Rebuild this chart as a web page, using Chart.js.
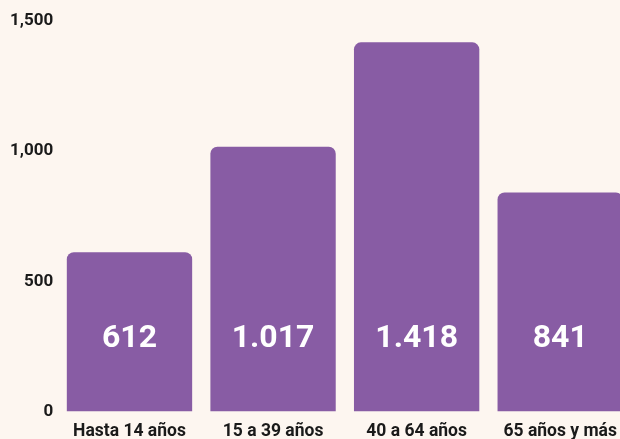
<!DOCTYPE html>
<html>
<head>
<meta charset="utf-8">
<script src="https://cdn.jsdelivr.net/npm/chart.js@4"></script>
<style>
  html, body { margin: 0; padding: 0; background: #fdf6f0; overflow: hidden; }
  #wrap { width: 632px; height: 439px; position: relative; }
</style>
</head>
<body>
<div id="wrap"><canvas id="c" width="632" height="439"></canvas></div>
<script>
const categories = ['Hasta 14 años', '15 a 39 años', '40 a 64 años', '65 años y más'];
const values = [612, 1017, 1418, 841];
const yTickValues = [0, 500, 1000, 1500];
const yTickLabels = ['0', '500', '1,000', '1,500'];

function fmtEs(v) { return String(v).replace(/\B(?=(\d{3})+(?!\d))/g, '.'); }

const valueLabelPlugin = {
  id: 'valueLabels',
  afterDatasetsDraw(chart) {
    const ctx = chart.ctx;
    const meta = chart.getDatasetMeta(0);
    const area = chart.chartArea;
    ctx.save();
    ctx.fillStyle = '#ffffff';
    ctx.font = 'bold 32px Roboto';
    ctx.textAlign = 'center';
    ctx.textBaseline = 'middle';
    meta.data.forEach((bar, i) => {
      ctx.fillText(fmtEs(values[i]), bar.x, area.bottom - 73);
    });
    ctx.restore();
  }
};

new Chart(document.getElementById('c'), {
  type: 'bar',
  data: {
    labels: categories,
    datasets: [{
      data: values,
      backgroundColor: '#885ca4',
      borderRadius: { topLeft: 7, topRight: 7, bottomLeft: 0, bottomRight: 0 },
      borderSkipped: false,
      barPercentage: 0.873,
      categoryPercentage: 1
    }]
  },
  options: {
    responsive: false,
    animation: false,
    layout: { padding: { top: 21, left: 0, right: 0, bottom: 0 } },
    plugins: { legend: { display: false }, tooltip: { enabled: false } },
    scales: {
      x: {
        grid: { display: false, drawTicks: false },
        border: { display: false },
        ticks: { color: '#1a1a1a', font: { family: 'Roboto', size: 17.5, weight: 'bold' }, padding: 10, maxRotation: 0, autoSkip: false },
        afterFit(scale) { scale.height = 27.5; }
      },
      y: {
        min: 0, max: 1500,
        grid: { display: false, drawTicks: false },
        border: { display: false },
        afterBuildTicks(scale) { scale.ticks = yTickValues.map(v => ({ value: v })); },
        ticks: {
          color: '#1a1a1a',
          font: { family: 'Roboto', size: 17, weight: 'bold' },
          padding: 4.5,
          callback(v) { const i = yTickValues.indexOf(v); return i >= 0 ? yTickLabels[i] : ''; }
        },
        afterFit(scale) { scale.width = 57.7; }
      }
    }
  },
  plugins: [valueLabelPlugin]
});
</script>
</body>
</html>
